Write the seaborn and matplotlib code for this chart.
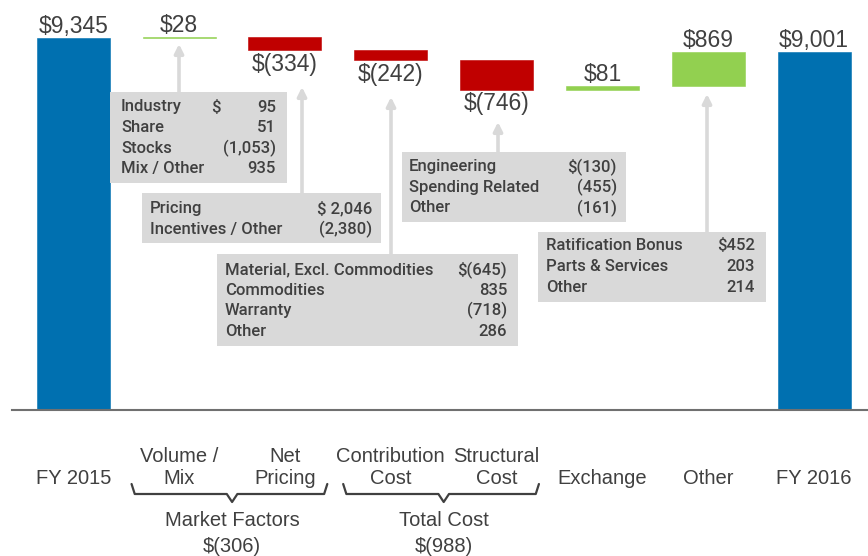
import seaborn as sns
import matplotlib.pyplot as plt
import pandas as pd
from matplotlib.patches import Rectangle

# ---- data ----
categories = ['FY 2015', 'Volume /\nMix', 'Net\nPricing', 'Contribution\nCost',
              'Structural\nCost', 'Exchange', 'Other', 'FY 2016']
changes = [9345, 28, -334, -242, -746, 81, 869, 9001]
is_total = [True, False, False, False, False, False, False, True]
value_labels = ['$9,345', '$28', '$(334)', '$(242)', '$(746)', '$81', '$869', '$9,001']

group_names = ['Market Factors', 'Total Cost']
group_members = [[1, 2], [3, 4]]

# detail boxes: (label, value)
box_volume_labels = ['Industry', 'Share', 'Stocks', 'Mix / Other']
box_volume_cur = ['$', '', '', '']
box_volume_values = ['95', '51', '(1,053)', '935']
box_pricing_labels = ['Pricing', 'Incentives / Other']
box_pricing_values = ['$ 2,046', '(2,380)']
box_contrib_labels = ['Material, Excl. Commodities', 'Commodities', 'Warranty', 'Other']
box_contrib_values = ['$(645)', '835', '(718)', '286']
box_struct_labels = ['Engineering', 'Spending Related', 'Other']
box_struct_values = ['$(130)', '(455)', '(161)']
box_other_labels = ['Ratification Bonus', 'Parts & Services', 'Other']
box_other_values = ['$452', '203', '214']

BLUE = '#0070B0'
RED = '#C00000'
GREEN = '#92D050'
GREY_TXT = '#404040'
BOX = '#D9D9D9'
BOX_FONT = dict(family=['Roboto', 'Liberation Sans', 'DejaVu Sans'], weight='medium',
                size=12, color=GREY_TXT)

W, H = 868, 556


def fig_xy(x, y):
    # pixel position (top-left origin) -> figure fraction
    return x / W, 1 - y / H


def build_frame():
    rows = []
    run = 0
    for cat, d, tot in zip(categories, changes, is_total):
        if tot:
            base, height, color = 0, d, BLUE
            run = d
        else:
            end = run + d
            base, height = min(run, end), abs(d)
            color = GREEN if d > 0 else RED
            run = end
        rows.append(dict(category=cat, base=base, height=height, top=base + height,
                         change=d, color=color))
    return pd.DataFrame(rows)


def money(v):
    return '${:,}'.format(v) if v >= 0 else '$({:,})'.format(-v)


def draw_box(fig, ax, x0, y0, x1, y1, labels, values, lx, rx, ly, step,
             arrow_x, arrow_tip, cur=None, cur_x=None):
    fx0, fy0 = fig_xy(x0, y1)
    fx1, fy1 = fig_xy(x1, y0)
    fig.patches.append(Rectangle((fx0, fy0), fx1 - fx0, fy1 - fy0, transform=fig.transFigure,
                                 facecolor=BOX, edgecolor='none', zorder=3))
    for i, (lab, val) in enumerate(zip(labels, values)):
        yy = ly + i * step
        fig.text(*fig_xy(lx, yy), lab, ha='left', va='center', zorder=4, **BOX_FONT)
        fig.text(*fig_xy(rx, yy), val, ha='right', va='center', zorder=4, **BOX_FONT)
        if cur is not None and cur[i]:
            fig.text(*fig_xy(cur_x, yy), cur[i], ha='center', va='center', zorder=4, **BOX_FONT)
    ax.annotate('', xy=fig_xy(arrow_x, arrow_tip), xytext=fig_xy(arrow_x, y0),
                xycoords='figure fraction', textcoords='figure fraction',
                arrowprops=dict(arrowstyle='-|>', color=BOX, lw=2.6, mutation_scale=13,
                                shrinkA=0, shrinkB=0), zorder=2)


def draw_brace(ax, x0, x1, xc, y_hook, y_line, y_tip):
    t = ax.get_xaxis_transform()
    to_ax = lambda yp: (410 - yp) / 410
    xs = [x0, x0 + 0.03, xc - 0.05, xc, xc + 0.05, x1 - 0.03, x1]
    ys = [y_hook, y_line, y_line, y_tip, y_line, y_line, y_hook]
    ax.plot(xs, [to_ax(v) for v in ys], transform=t, color=GREY_TXT, lw=1.6,
            clip_on=False, solid_joinstyle='round', solid_capstyle='round')


def do_plot():
    sns.set_style('white')
    plt.rcParams['font.family'] = ['Liberation Sans', 'DejaVu Sans']

    df = build_frame()
    fig = plt.figure(figsize=(W / 100, H / 100), dpi=100)
    ax = fig.add_axes([12 / W, (H - 410) / H, 1 - 12 / W, 410 / H])

    palette = dict(zip(df['category'], df['color']))
    sns.barplot(data=df, x='category', y='height', hue='category', order=categories,
                hue_order=categories, palette=palette, width=0.69, saturation=1,
                errorbar=None, legend=False, ax=ax)
    # floating waterfall: lift each bar to its running base
    for patch, base in zip(ax.patches, df['base']):
        patch.set_y(base)
        patch.set_edgecolor(patch.get_facecolor())
        patch.set_linewidth(0.4)

    ax.set_xlim(-0.58, 7.51)
    ax.set_ylim(0, 10300)
    for s in ['top', 'right', 'left']:
        ax.spines[s].set_visible(False)
    ax.spines['bottom'].set_color('#707070')
    ax.spines['bottom'].set_linewidth(1.5)
    ax.set_yticks([])
    ax.set_xlabel('')
    ax.set_ylabel('')

    ax.set_xticks(range(len(categories)))
    ax.set_xticklabels(categories, fontsize=14.5, color=GREY_TXT, linespacing=1.25)
    ax.tick_params(axis='x', length=0, pad=56.5)
    for lab in ax.get_xticklabels():
        lab.set_va('bottom')

    # value labels
    for i, r in df.iterrows():
        if r['change'] >= 0:
            ax.annotate(value_labels[i], (i, r['top']), xytext=(0, 3.5), textcoords='offset points',
                        ha='center', va='baseline', fontsize=16.5, color=GREY_TXT)
        else:
            ax.annotate(value_labels[i], (i, r['base']), xytext=(0, -2), textcoords='offset points',
                        ha='center', va='top', fontsize=16.5, color=GREY_TXT)

    # braces and group totals
    t = ax.get_xaxis_transform()
    for name, members in zip(group_names, group_members):
        lo, hi = members[0], members[-1]
        xc = (lo + hi) / 2
        draw_brace(ax, lo - 0.45, hi + 0.4, xc, 484, 494, 502)
        total = sum(changes[m] for m in members)
        ax.text(xc, (410 - 520) / 410, name, transform=t, ha='center', va='center',
                fontsize=14.5, color=GREY_TXT)
        ax.text(xc, (410 - 546) / 410, money(total), transform=t, ha='center', va='center',
                fontsize=14.5, color=GREY_TXT)

    # detail boxes with arrows
    draw_box(fig, ax, 110, 92, 287, 183, box_volume_labels, box_volume_values,
             121, 276, 107, 20.6, 179, 44, cur=box_volume_cur, cur_x=216)
    draw_box(fig, ax, 142, 193, 381, 243, box_pricing_labels, box_pricing_values,
             150, 372, 209, 20.6, 302, 87)
    draw_box(fig, ax, 217, 254, 518, 346, box_contrib_labels, box_contrib_values,
             225, 507, 270, 20.4, 391, 97)
    draw_box(fig, ax, 402, 152, 626, 222, box_struct_labels, box_struct_values,
             409, 617, 167, 20.5, 498, 122)
    draw_box(fig, ax, 538, 232, 766, 302, box_other_labels, box_other_values,
             546, 755, 246, 20.5, 707, 94)

    fig.savefig('out.png', dpi=100)


if __name__ == '__main__':
    do_plot()
